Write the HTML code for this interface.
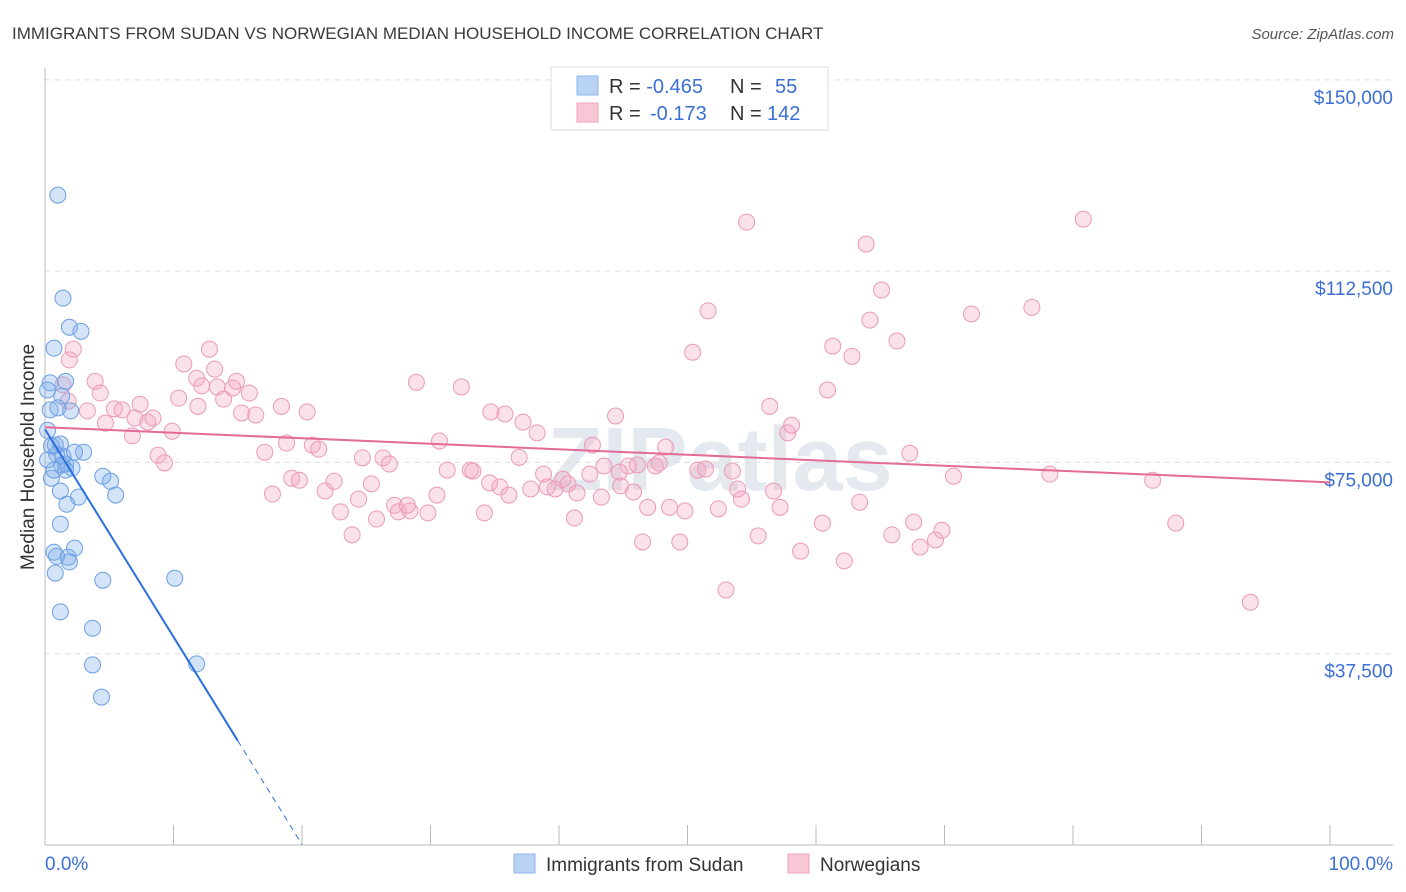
<!DOCTYPE html>
<html><head><meta charset="utf-8"><style>
body{margin:0;background:#fff;font-family:"Liberation Sans",sans-serif}
svg{display:block}
</style></head><body>
<svg id="chart" width="1406" height="892">
<text x="12" y="39" font-size="17" fill="#3a3a3a">IMMIGRANTS FROM SUDAN VS NORWEGIAN MEDIAN HOUSEHOLD INCOME CORRELATION CHART</text>
<text x="1394" y="39" font-size="15" fill="#555" font-style="italic" text-anchor="end">Source: ZipAtlas.com</text>
<text x="720" y="490" font-size="90" fill="#e4e8ef" text-anchor="middle" font-weight="bold">ZIPatlas</text>
<g id="grid"></g><g id="pts"></g><g id="trend"></g>
<text transform="translate(34,457) rotate(-90)" font-size="19" fill="#333" text-anchor="middle">Median Household Income</text>
<text x="45" y="870" font-size="19" fill="#3b6fd6">0.0%</text>
<text x="1393" y="870" font-size="19" fill="#3b6fd6" text-anchor="end">100.0%</text>
<g>
<rect x="551" y="67" width="277" height="63" fill="#fff" stroke="#ddd"/>
<rect x="577" y="76" width="21" height="19" fill="#b9d3f5" stroke="#8fb6ea"/>
<rect x="577" y="103" width="21" height="19" fill="#f9c6d5" stroke="#eea4bc"/>
<text x="609" y="93" font-size="20" fill="#333">R = <tspan fill="#3b6fd6">-0.465</tspan><tspan x="730">N = </tspan><tspan x="775" fill="#3b6fd6">55</tspan></text>
<text x="609" y="120" font-size="20" fill="#333">R = <tspan x="650" fill="#3b6fd6">-0.173</tspan><tspan x="730">N = </tspan><tspan x="767" fill="#3b6fd6">142</tspan></text>
</g>
<g>
<rect x="514" y="854" width="21" height="19" fill="#b9d3f5" stroke="#8fb6ea"/>
<text x="546" y="871" font-size="19" fill="#333">Immigrants from Sudan</text>
<rect x="788" y="854" width="21" height="19" fill="#f9c6d5" stroke="#eea4bc"/>
<text x="820" y="871" font-size="19" fill="#333">Norwegians</text>
</g>
</svg>
<script>
const yTicks=[150,112.5,75,37.5];
const yTickLabels=["$150,000","$112,500","$75,000","$37,500"];
const xTicks=[0,10,20,30,40,50,60,70,80,90,100];
const sudanX=[1.0,1.4,1.9,2.8,0.7,1.6,0.4,1.3,2.0,0.4,0.2,1.2,0.5,0.9,1.4,3.0,1.6,2.1,0.5,4.5,5.1,1.2,2.6,5.5,1.7,1.2,0.7,2.3,1.8,0.9,1.9,0.8,4.5,10.1,1.2,3.7,3.7,11.8,4.4,0.8,1.3,0.2,1.0,0.2,1.6,2.3,0.7];
const sudanY=[127.4,107.2,101.5,100.7,97.4,90.9,90.6,88.0,85.1,85.3,81.3,78.6,78.2,76.6,76.2,77.0,74.7,73.9,71.9,72.3,71.3,69.4,68.2,68.6,66.8,62.9,57.4,58.2,56.4,56.6,55.5,53.3,51.9,52.3,45.7,42.5,35.3,35.5,29.0,78.4,74.5,75.5,85.7,89.2,73.5,77.0,73.5];
const norX=[1.9,2.2,1.4,3.9,4.3,1.8,3.3,5.4,6.0,4.7,7.0,8.0,8.4,6.8,7.4,9.9,8.8,9.3,10.8,11.8,12.8,13.2,14.9,13.4,14.6,12.2,10.4,11.9,13.9,15.9,15.3,16.4,18.4,20.4,17.1,18.8,20.8,21.3,19.2,17.7,19.8,21.8,22.5,24.4,25.4,23.0,23.9,24.7,25.8,27.2,26.3,26.8,27.5,28.4,28.2,29.8,28.9,30.7,30.5,31.3,33.1,32.4,33.3,34.2,34.7,35.8,34.6,35.4,36.1,36.9,37.2,38.3,37.8,38.8,39.1,39.7,40.3,40.7,41.2,41.4,42.6,43.5,43.3,44.4,45.4,44.8,46.1,45.8,46.5,47.5,47.8,46.9,48.3,48.6,49.4,49.8,50.4,51.6,50.8,51.4,52.4,53.0,53.5,53.9,54.2,54.6,55.5,56.4,56.7,57.2,57.8,58.1,58.8,60.5,60.9,61.3,62.2,62.8,63.4,63.9,64.2,65.1,66.3,65.9,67.3,67.6,68.1,69.3,69.8,70.7,72.1,76.8,78.2,80.8,86.2,88.0,93.8,44.7,42.4];
const norY=[95.1,97.2,90.2,90.9,88.6,87.0,85.1,85.5,85.3,82.7,83.7,82.9,83.7,80.2,86.4,81.1,76.4,74.9,94.3,91.5,97.2,93.3,90.9,89.8,89.6,90.0,87.6,86.0,87.4,88.6,84.7,84.3,86.0,84.9,77.0,78.8,78.4,77.6,71.9,68.8,71.5,69.4,71.3,67.8,70.8,65.3,60.8,75.9,63.9,66.6,75.9,74.7,65.3,65.5,66.6,65.1,90.7,79.2,68.6,73.5,73.5,89.8,73.3,65.1,84.9,84.5,71.0,70.2,68.6,76.0,82.9,80.8,69.8,72.7,70.2,69.8,71.7,70.8,64.1,69.0,78.4,74.3,68.2,84.1,74.3,70.4,74.5,69.2,59.4,74.3,74.9,66.2,78.0,66.2,59.4,65.5,96.6,104.7,73.5,73.7,65.9,50.0,73.3,69.8,67.8,122.1,60.6,86.0,69.4,66.2,80.8,82.3,57.6,63.1,89.2,97.8,55.7,95.8,67.2,117.8,102.9,108.8,98.8,60.8,76.8,63.3,58.4,59.8,61.7,72.3,104.1,105.4,72.7,122.7,71.5,63.1,47.6,73.1,72.7];
const sudanTrend=[81.5,-4.07];
const norTrend=[81.9,-0.108];
const NS="http://www.w3.org/2000/svg";
const X=p=>45+p*12.85, Y=v=>845-v*5.101;
function mk(tag,attrs,parent){const e=document.createElementNS(NS,tag);for(const k in attrs)e.setAttribute(k,attrs[k]);parent.appendChild(e);return e;}
const grid=document.getElementById('grid');
yTicks.forEach((t,i)=>{
 const l=mk('line',{x1:45,x2:1393,y1:Y(t),y2:Y(t),stroke:'#ddd','stroke-dasharray':'5,5'},grid);
 
 
 const tx=mk('text',{x:1393,y:Y(t)+24,'font-size':19,fill:'#3b6fd6','text-anchor':'end'},grid);
 tx.textContent=yTickLabels[i];
 
 
});
const ax=mk('line',{x1:45,x2:45,y1:68,y2:845,stroke:'#bbb'},grid);


const bx=mk('line',{x1:45,x2:1393,y1:845,y2:845,stroke:'#bbb'},grid);


xTicks.forEach(t=>{
 const l=mk('line',{x1:X(t),x2:X(t),y1:825,y2:845,stroke:'#bbb'},grid);
 
 
});
const pts=document.getElementById('pts');
norX.forEach((x,i)=>{
 const c=mk('circle',{cx:X(x),cy:Y(norY[i]),r:8,fill:'rgba(244,170,196,0.35)',stroke:'#eb9ab7','stroke-width':1},pts);
 
 
});
sudanX.forEach((x,i)=>{
 const c=mk('circle',{cx:X(x),cy:Y(sudanY[i]),r:8,fill:'rgba(130,175,235,0.35)',stroke:'#6c9fe3','stroke-width':1},pts);
 
 
});
const tr=document.getElementById('trend');
const f=(t,x)=>t[0]+t[1]*x;
const s1=mk('line',{x1:X(0),y1:Y(f(sudanTrend,0)),x2:X(15),y2:Y(f(sudanTrend,15)),stroke:'#2a6fdc','stroke-width':2},tr);


const s2=mk('line',{x1:X(15),y1:Y(f(sudanTrend,15)),x2:X(20),y2:Y(f(sudanTrend,20)),stroke:'#2a6fdc','stroke-width':1,'stroke-dasharray':'6,5'},tr);


const n1=mk('line',{x1:X(0),y1:Y(f(norTrend,0)),x2:X(100),y2:Y(f(norTrend,100)),stroke:'#e46b95','stroke-width':2},tr);


</script>
</body></html>
